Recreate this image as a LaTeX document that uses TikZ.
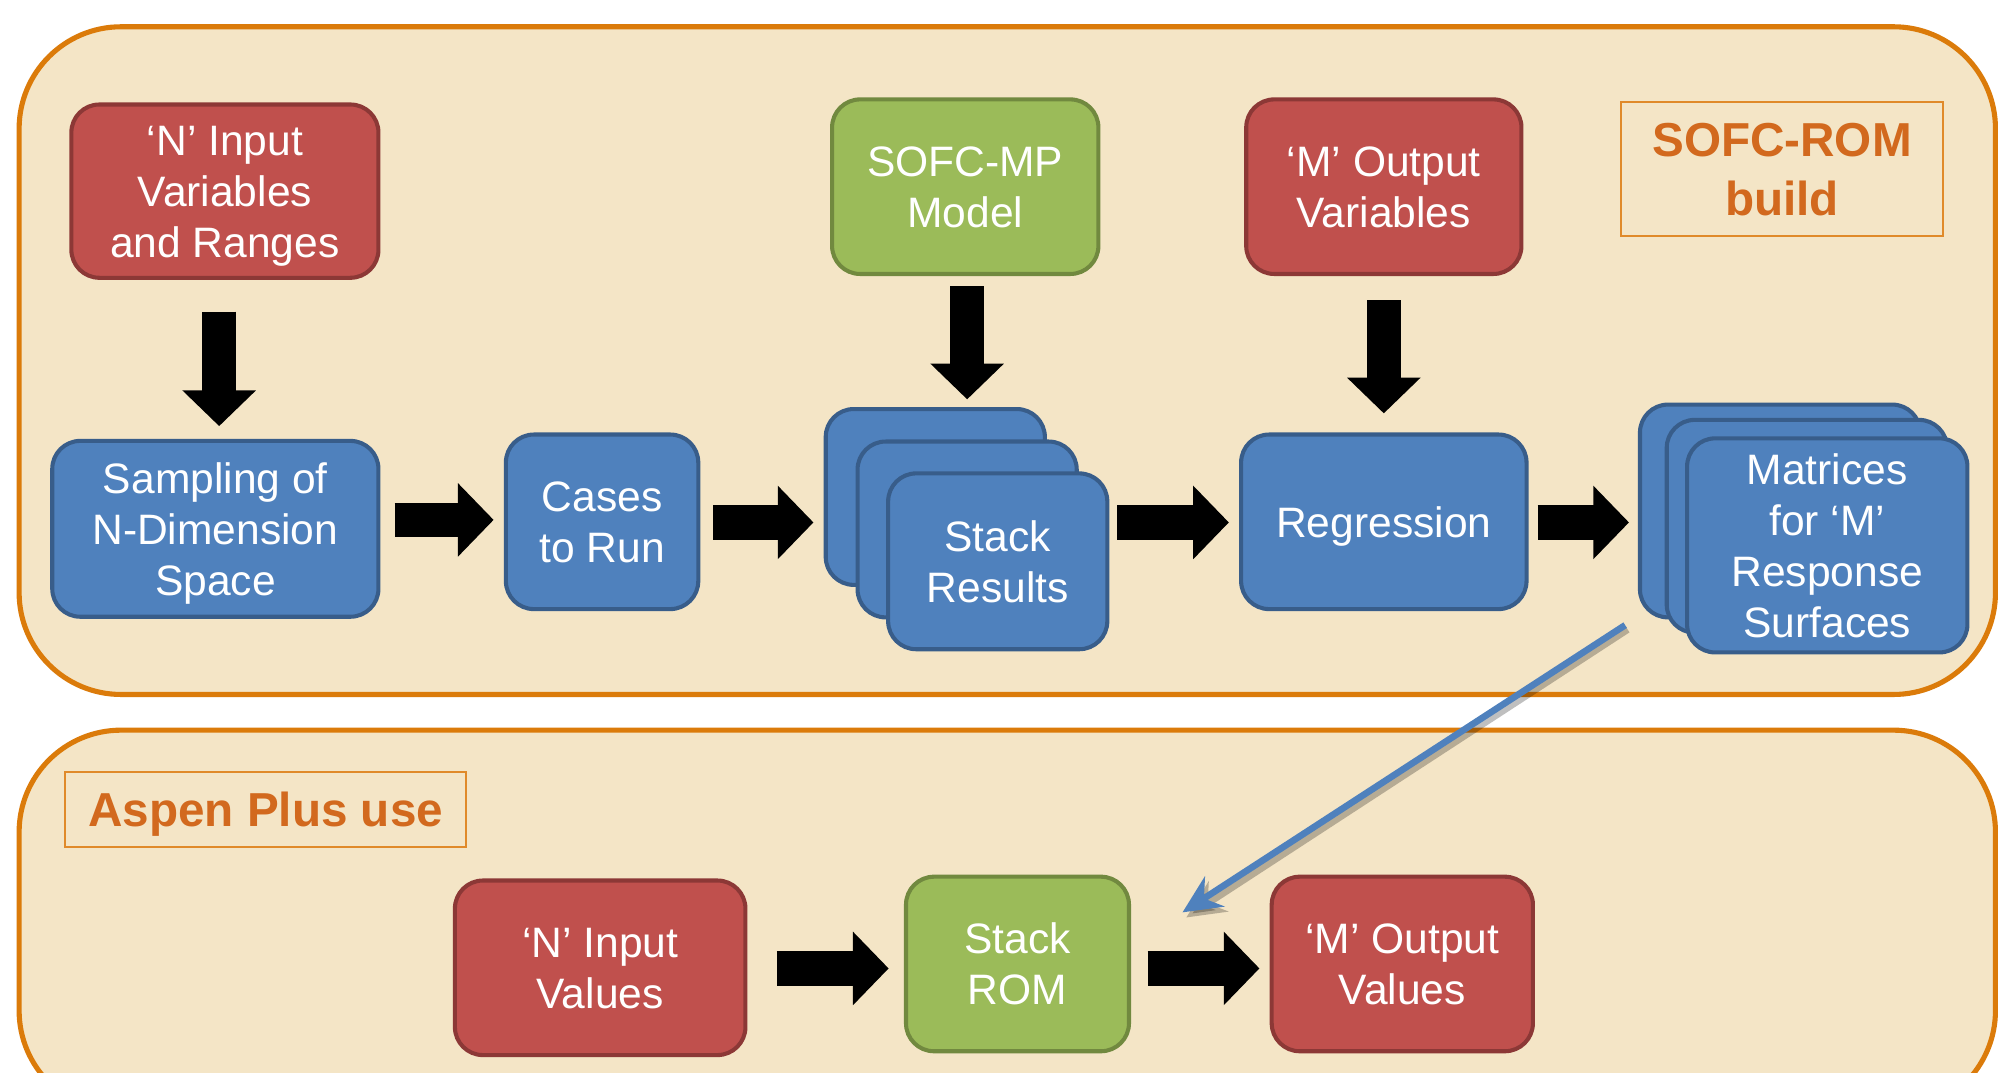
\documentclass[tikz,border=0pt]{standalone}
\usepackage{fontspec}
\setmainfont{Liberation Sans}
\usetikzlibrary{arrows.meta,calc}
\definecolor{panelfill}{HTML}{F4E5C6}
\definecolor{panelline}{HTML}{DB7B0A}
\definecolor{lbltext}{HTML}{D2691E}
\definecolor{lblline}{HTML}{E08A2A}
\definecolor{redf}{HTML}{C0504D}
\definecolor{redl}{HTML}{8C3836}
\definecolor{greenf}{HTML}{9BBB59}
\definecolor{greenl}{HTML}{71893F}
\definecolor{bluef}{HTML}{4F81BD}
\definecolor{bluel}{HTML}{385D8A}
\newcommand\boxlines[1]{\begin{tabular}{@{}c@{}}\rule{0pt}{18pt}#1\end{tabular}}
\newcommand\lbllines[1]{\begin{tabular}{@{}c@{}}\rule{0pt}{20.4pt}#1\end{tabular}}
\begin{document}
\begin{tikzpicture}[x=0.5pt,y=-0.5pt,
  panel/.style={draw=panelline, line width=2pt, fill=panelfill, rounded corners=40pt},
  box/.style={rounded corners=11pt, line width=1.6pt, inner sep=0pt, text=white,
    font=\fontsize{16.7}{20}\selectfont},
  redbox/.style={box, fill=redf, draw=redl},
  greenbox/.style={box, fill=greenf, draw=greenl},
  bluebox/.style={box, fill=bluef, draw=bluel},
  lbl/.style={draw=lblline, line width=0.8pt, inner sep=0pt, text=lbltext,
    font=\fontsize{18.7}{23}\selectfont\bfseries},
  blockarr/.style={draw=black, line width=13.5pt, -{Triangle[length=14pt,width=28pt]}},
  bluearr/.style={draw=bluef, line width=2.6pt, -{Stealth[length=15pt,width=14pt,inset=5pt]}},
  shadowarr/.style={draw=black, opacity=0.25, line width=2.6pt, -{Stealth[length=15pt,width=14pt,inset=5pt]}}
]
\path[use as bounding box, clip] (0,0) rectangle (1568,842);
\fill[white] (0,0) rectangle (1568,842);
% panels
\draw[panel] (15,21) rectangle (1566,545);
\draw[panel] (15,573) rectangle (1566,873);
% top row
\node[redbox, minimum width=120.5pt, minimum height=68pt] (in1) at (176.5,150) {\boxlines{‘N’ Input\\Variables\\and Ranges}};
\node[greenbox, minimum width=104.5pt, minimum height=68.5pt] (sofc) at (757.5,146.5) {\boxlines{SOFC-MP\\Model}};
\node[redbox, minimum width=108pt, minimum height=68.5pt] (mout) at (1086,146.5) {\boxlines{‘M’ Output\\Variables}};
\node[lbl, minimum width=126.5pt, minimum height=52.5pt] (rombuild) at (1398.5,132.5) {\lbllines{SOFC-ROM\\build}};
% middle row
\node[bluebox, minimum width=128pt, minimum height=69pt] (samp) at (169,415) {\boxlines{Sampling of\\N-Dimension\\Space}};
\node[bluebox, minimum width=75.5pt, minimum height=68.5pt] (cases) at (472.5,409.5) {\boxlines{Cases\\to Run}};
\node[bluebox, minimum width=86pt, minimum height=69pt] (sb1) at (734,390) {};
\node[bluebox, minimum width=86pt, minimum height=69pt] (sb2) at (759,415.5) {};
\node[bluebox, minimum width=86pt, minimum height=69pt] (sf) at (783,440.5) {\boxlines{Stack\\Results}};
\node[bluebox, minimum width=112pt, minimum height=68.5pt] (reg) at (1086,409.5) {\boxlines{Regression}};
\node[bluebox, minimum width=110pt, minimum height=83.5pt] (mb1) at (1397,401) {};
\node[bluebox, minimum width=110pt, minimum height=83.5pt] (mb2) at (1418,413) {};
\node[bluebox, minimum width=110pt, minimum height=83.5pt] (mf) at (1434,428) {\boxlines{Matrices\\for ‘M’\\Response\\Surfaces}};
% bottom panel
\node[lbl, minimum width=157.5pt, minimum height=29.5pt] (aspen) at (208.5,635.5) {\lbllines{Aspen Plus use}};
\node[redbox, minimum width=114pt, minimum height=68.5pt] (nin) at (471,759.5) {\boxlines{‘N’ Input\\Values}};
\node[greenbox, minimum width=87.5pt, minimum height=68.5pt] (rom) at (798.5,756.5) {\boxlines{Stack\\ROM}};
\node[redbox, minimum width=102.5pt, minimum height=68.5pt] (mo) at (1100.5,756.5) {\boxlines{‘M’ Output\\Values}};
% block arrows
\draw[blockarr] ($(in1.south)+(-4.5,25)$) -- ($(samp.north)+(3,-10)$);
\draw[blockarr] ($(sofc.south)+(1.5,8)$) -- ($(sb1.north)+(25,-6)$);
\draw[blockarr] ($(mout.south)+(0,19)$) -- ($(reg.north)+(0,-15)$);
\draw[blockarr] ($(samp.east)+(11,-7)$) -- ($(cases.west)+(-8,-1.5)$);
\draw[blockarr] ($(cases.east)+(10,0.5)$) -- ($(sb1.west)+(-8,20)$);
\draw[blockarr] ($(sf.east)+(6,-30.5)$) -- ($(reg.west)+(-8,0.5)$);
\draw[blockarr] ($(reg.east)+(7,0.5)$) -- ($(mb1.west)+(-7,9)$);
\draw[blockarr] ($(nin.east)+(23,0.5)$) -- ($(rom.west)+(-12,3.5)$);
\draw[blockarr] ($(rom.east)+(13,3.5)$) -- ($(mo.west)+(-8,3.5)$);
% blue arrow
\coordinate (btip) at (928,716);
\draw[shadowarr] ($(mb1.south west)+(-8,8)$) -- ($(btip)+(3,4)$);
\draw[bluearr] ($(mb1.south west)+(-10,4.5)$) -- (btip);
\end{tikzpicture}
\end{document}
